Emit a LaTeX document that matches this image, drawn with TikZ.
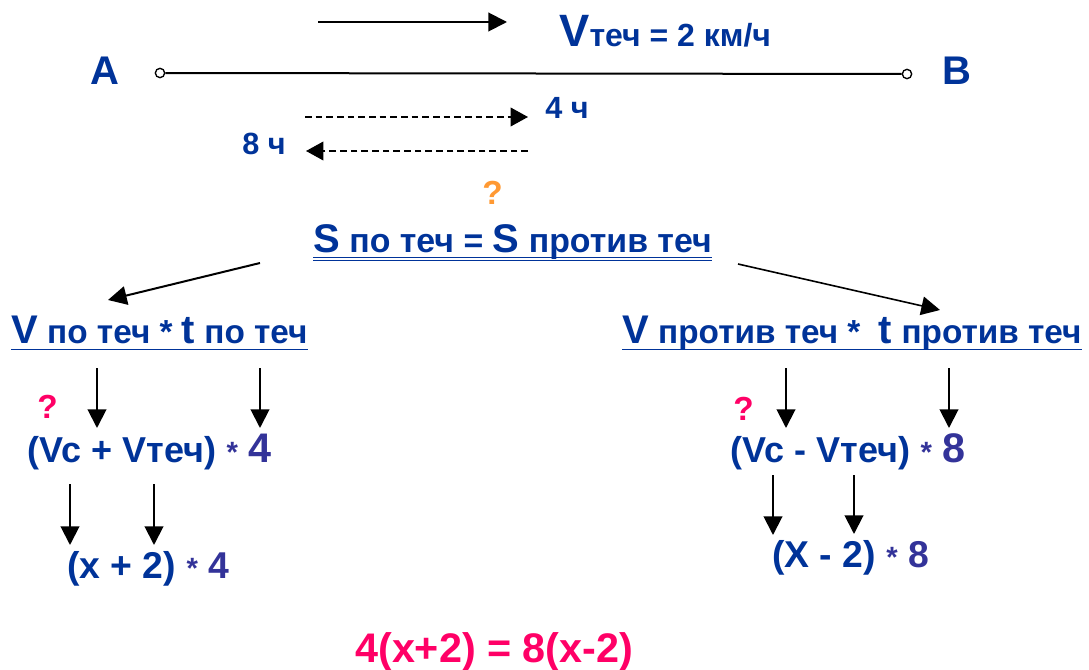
\documentclass[tikz,border=0pt]{standalone}
\usepackage{fontspec}
\setmainfont{Liberation Sans}
\usetikzlibrary{arrows.meta}
\definecolor{tblue}{HTML}{003399}
\definecolor{tpurp}{HTML}{333399}
\definecolor{tpink}{HTML}{FF0066}
\definecolor{torange}{HTML}{FF9933}
\newcommand\fsz[2]{{\fontsize{#1}{#1}\selectfont #2}}
\begin{document}
\begin{tikzpicture}[x=0.75pt,y=-0.75pt,
  txt/.style={anchor=base west,inner sep=0pt,font=\bfseries,text=tblue},
  arr/.style={line width=1.5pt,-{Triangle[length=14pt,width=14pt]}},
  darr/.style={line width=1.1pt,dash pattern=on 5pt off 3pt,-{Triangle[length=13pt,width=14pt]}},
  dot/.style={circle,draw,line width=1pt,inner sep=0pt,minimum size=7pt,fill=white},
  ul/.style={line width=1pt,draw=tblue},
  qm/.style={anchor=base west,inner sep=0pt,font=\bfseries\fontsize{25}{25}\selectfont}]
\useasboundingbox (0,0) rectangle (1089,670);
% top
\coordinate (t1) at (318,22); \coordinate (t2) at (507,22);
\draw[arr] (t1) -- (t2);
\node[txt] (vt) at (559,47) {\fsz{24}{\fsz{34}{V}теч = 2 км/ч}};
\node[txt] (A) at (90,85) {\fsz{30}{A}};
\node[txt] (B) at (942,85) {\fsz{30}{B}};
\node[dot] (pa) at (160,73) {};
\node[dot] (pb) at (907,74) {};
\draw[line width=1.5pt] (pa) -- (pb);
\coordinate (d1s) at (305,117); \coordinate (d1e) at (528,117);
\draw[darr] (d1s) -- (d1e);
\node[txt] (h4) at (545,119) {\fsz{23}{4 ч}};
\coordinate (d2s) at (528,151); \coordinate (d2e) at (306,151);
\draw[darr] (d2s) -- (d2e);
\node[txt] (h8) at (242,155) {\fsz{23}{8 ч}};
% S equation
\node[qm,text=torange] (q0) at (482,205) {?};
\node[txt] (S) at (313,253) {\fsz{25.4}{\fsz{30}{S} по теч = \fsz{30}{S} против теч}};
\draw[ul,line width=0.8pt] ([yshift=-3.5pt]S.base west) -- ([yshift=-3.5pt]S.base east);
\draw[ul,line width=0.8pt] ([yshift=-5.5pt]S.base west) -- ([yshift=-5.5pt]S.base east);
% left branch
\coordinate (l0) at (260,263); \coordinate (l1) at (108,300);
\draw[arr] (l0) -- (l1);
\node[txt] (VL) at (11,344) {\fsz{25}{\fsz{30}{V} по теч * \fsz{30}{t} по теч}};
\draw[ul] ([yshift=-4pt]VL.base west) -- ([yshift=-4pt]VL.base east);
\coordinate (la1) at (97,368); \coordinate (la2) at (97,428);
\coordinate (lb1) at (260,368); \coordinate (lb2) at (260,428);
\draw[arr] (la1) -- (la2);
\draw[arr] (lb1) -- (lb2);
\node[qm,text=tpink] (q1) at (37,418) {?};
\node[txt] (EL) at (27,462) {\fsz{27}{(V\kern-1pt c + Vтеч) \textcolor{tpurp}{\fsz{22}{*} \fsz{31}{4}}}};
\coordinate (lc1) at (70,484); \coordinate (lc2) at (70,545);
\coordinate (ld1) at (154,484); \coordinate (ld2) at (154,545);
\draw[arr] (lc1) -- (lc2);
\draw[arr] (ld1) -- (ld2);
\node[txt] (XL) at (67,578) {\fsz{28}{(x + 2) \textcolor{tpurp}{\fsz{22}{*} 4}}};
% right branch
\coordinate (r0) at (738,264); \coordinate (r1) at (940,310);
\draw[line width=1.2pt,-{Triangle[length=14pt,width=14pt]}] (r0) -- (r1);
\node[txt] (VR) at (622,344) {\fsz{25}{\fsz{30}{V} против теч *\ \ \fsz{30}{t} против теч}};
\draw[ul] ([yshift=-4pt]VR.base west) -- ([yshift=-4pt]VR.base east);
\coordinate (ra1) at (786,368); \coordinate (ra2) at (786,428);
\coordinate (rb1) at (949,368); \coordinate (rb2) at (949,428);
\draw[arr] (ra1) -- (ra2);
\draw[arr] (rb1) -- (rb2);
\node[qm,text=tpink] (q2) at (733,420) {?};
\node[txt] (ER) at (730,462) {\fsz{27}{(V\kern-1pt c - Vтеч) \textcolor{tpurp}{\fsz{22}{*} \fsz{31}{8}}}};
\coordinate (rc1) at (773,475); \coordinate (rc2) at (773,535);
\coordinate (rd1) at (854,475); \coordinate (rd2) at (854,534);
\draw[arr] (rc1) -- (rc2);
\draw[arr] (rd1) -- (rd2);
\node[txt] (XR) at (772,567) {\fsz{28}{(X - 2) \textcolor{tpurp}{\fsz{22}{*} 8}}};
% final
\node[txt,text=tpink] (F) at (355,662) {\fsz{31}{4(x+2) = 8(x-2)}};
\end{tikzpicture}
\end{document}
